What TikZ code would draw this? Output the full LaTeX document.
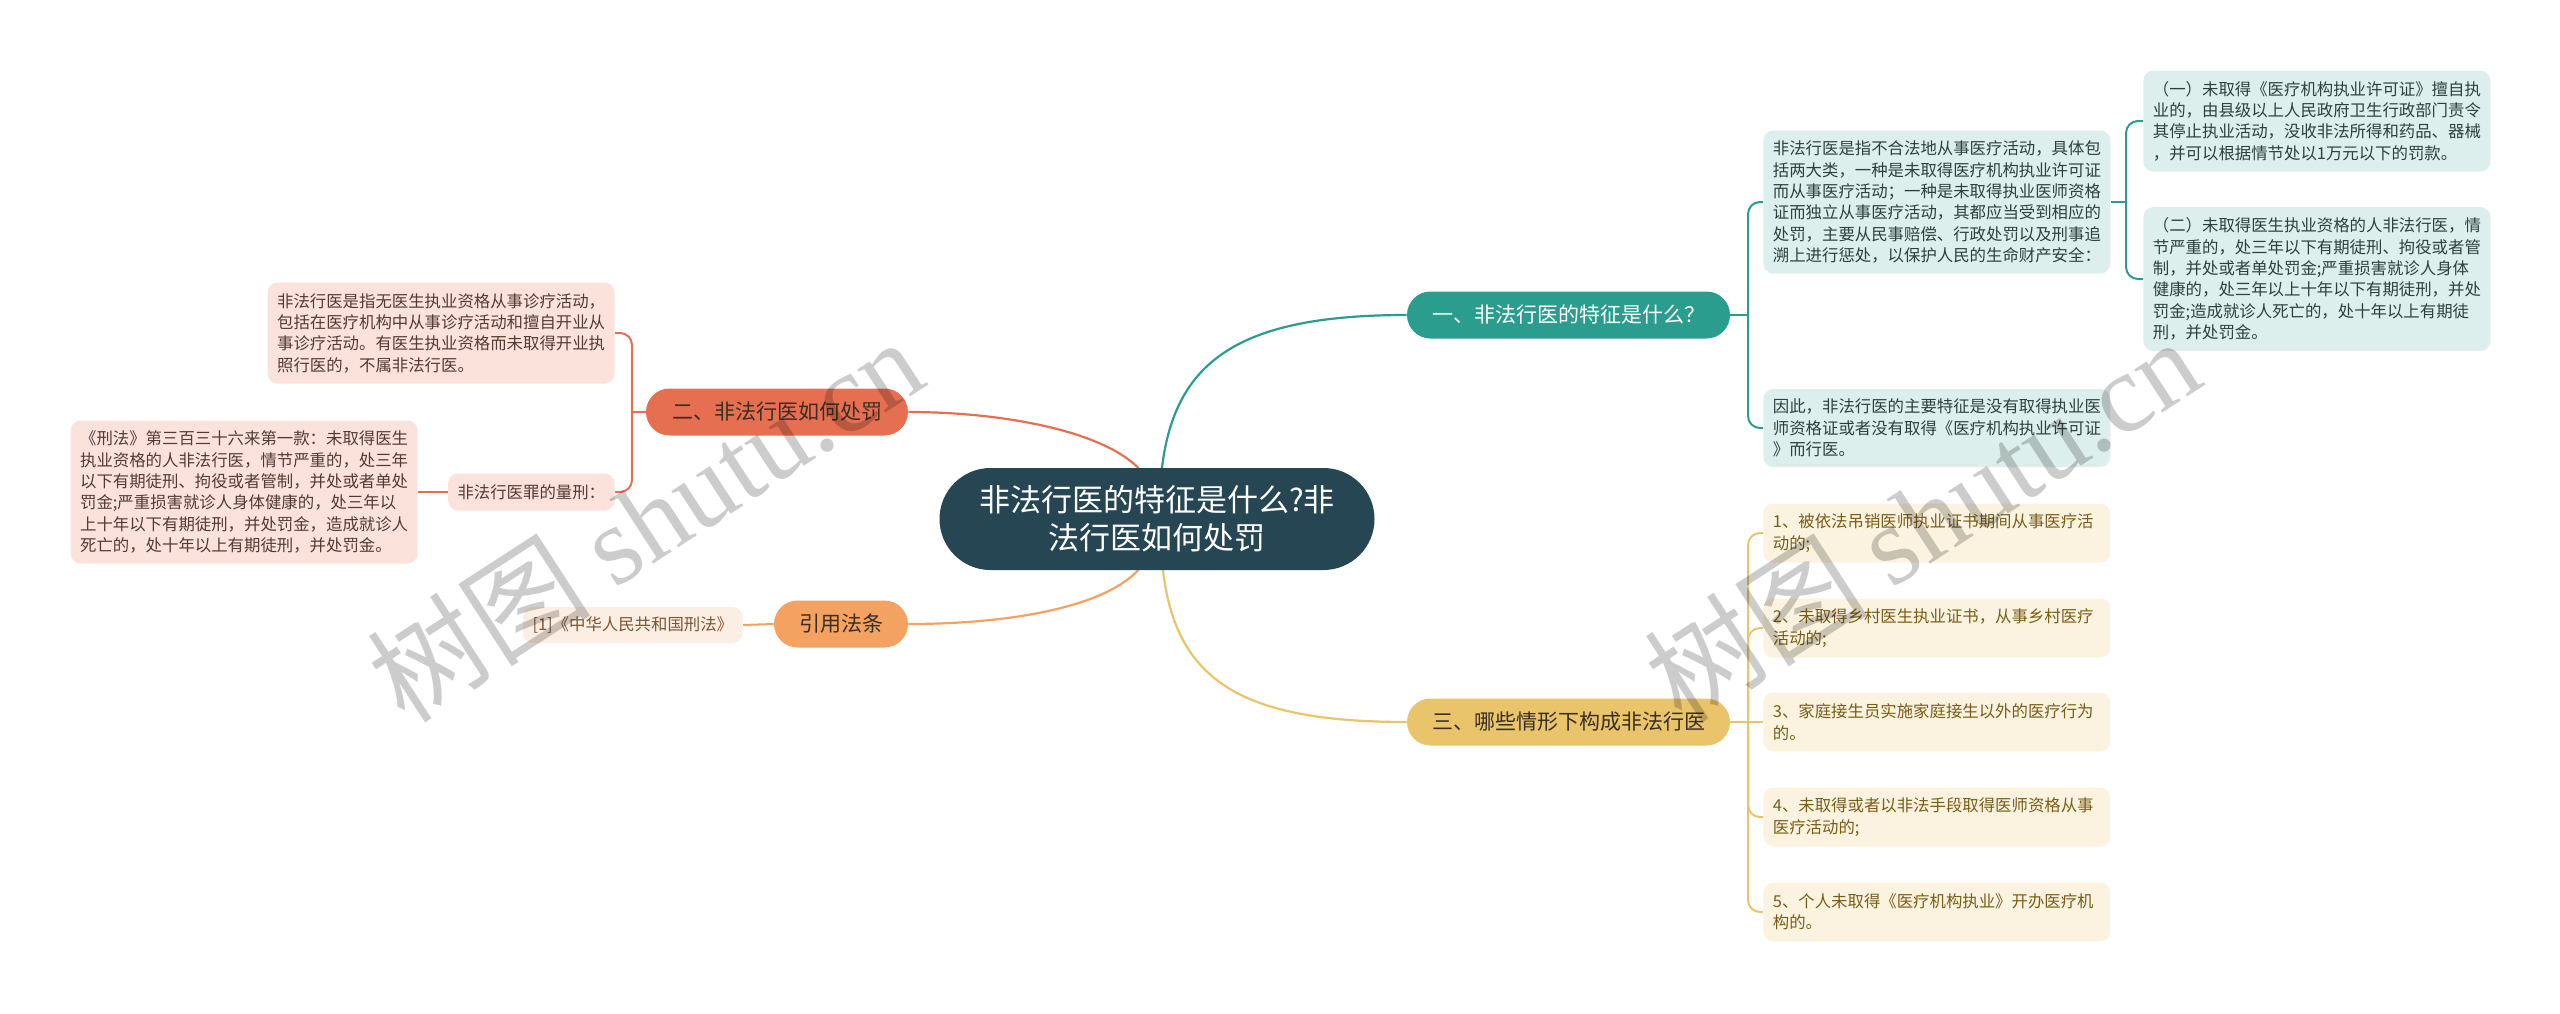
\documentclass[tikz,border=0pt]{standalone}
\usepackage{fontspec}
\setmainfont{Noto Sans CJK SC}
\newfontfamily\wmserif{Liberation Serif}
\usetikzlibrary{backgrounds}
\definecolor{cCenter}{HTML}{264653}
\definecolor{cTeal}{HTML}{2A9D8F}
\definecolor{cGold}{HTML}{E9C46A}
\definecolor{cSand}{HTML}{F4A261}
\definecolor{cCoral}{HTML}{E76F51}
\definecolor{fTeal}{HTML}{DDEFEC}
\definecolor{fGold}{HTML}{FBF3E0}
\definecolor{fCoral}{HTML}{FBE3DC}
\definecolor{fSand}{HTML}{FDEEE3}
\definecolor{tTeal}{HTML}{2F3F3D}
\definecolor{tGold}{HTML}{7A5C16}
\definecolor{tCoral}{HTML}{553A32}
\definecolor{tSand}{HTML}{7E5533}
\definecolor{tDark}{HTML}{3A2E22}
\begin{document}
\begin{tikzpicture}[x=0.5pt,y=-0.5pt,
  leaf/.style={rounded corners=5pt, inner xsep=4.75pt, inner ysep=2pt, align=left,
    font=\fontsize{8.2pt}{10.65pt}\selectfont},
  wide/.style={text width=164pt},
  tleaf/.style={leaf, fill=fTeal, text=tTeal},
  gleaf/.style={leaf, wide, fill=fGold, text=tGold, minimum height=29.5pt},
  cleaf/.style={leaf, fill=fCoral, text=tCoral},
  sleaf/.style={leaf, fill=fSand, text=tSand},
  branch/.style={rounded corners=11.75pt, minimum height=23.5pt, inner xsep=12pt, inner ysep=0pt,
    font=\fontsize{10.5pt}{12pt}\selectfont},
  link/.style={line width=1pt, rounded corners=6pt},
  mainlink/.style={line width=1.1pt},
  watermark/.style={rotate=33, text=black, text opacity=0.2, font=\fontsize{56pt}{60pt}\selectfont}
]
\useasboundingbox (0,0) rectangle (2560,1013);

% central node
\node[fill=cCenter, text=white, rounded corners=25.5pt, minimum width=217.5pt, minimum height=51pt,
  align=center, inner sep=0pt, font=\fontsize{15.5pt}{19pt}\selectfont] (c) at (1157,519)
  {非法行医的特征是什么?非\\法行医如何处罚};

% main branches
\node[branch, fill=cTeal, text=white, minimum width=161.5pt] (b1) at (1568.5,315) {一、非法行医的特征是什么？};
\node[branch, fill=cGold, text=tDark, minimum width=161.5pt] (b3) at (1568.5,722) {三、哪些情形下构成非法行医};
\node[branch, fill=cCoral, text=tDark, minimum width=131pt] (b2) at (777,412) {二、非法行医如何处罚};
\node[branch, fill=cSand, text=tDark, minimum width=67pt] (b4) at (841,624) {引用法条};

% teal leaves
\node[tleaf, wide, anchor=west, minimum height=71.5pt] (T1) at (1763,202)
  {非法行医是指不合法地从事医疗活动，具体包\\括两大类，一种是未取得医疗机构执业许可证\\而从事医疗活动；一种是未取得执业医师资格\\证而独立从事医疗活动，其都应当受到相应的\\处罚，主要从民事赔偿、行政处罚以及刑事追\\溯上进行惩处，以保护人民的生命财产安全：};
\node[tleaf, wide, anchor=west, minimum height=39pt] (T2) at (1763,428)
  {因此，非法行医的主要特征是没有取得执业医\\师资格证或者没有取得《医疗机构执业许可证\\》而行医。};
\node[tleaf, wide, anchor=west, minimum height=50.5pt] (T1a) at (2143,121)
  {（一）未取得《医疗机构执业许可证》擅自执\\业的，由县级以上人民政府卫生行政部门责令\\其停止执业活动，没收非法所得和药品、器械\\，并可以根据情节处以1万元以下的罚款。};
\node[tleaf, wide, anchor=west, minimum height=72pt] (T1b) at (2143,279)
  {（二）未取得医生执业资格的人非法行医，情\\节严重的，处三年以下有期徒刑、拘役或者管\\制，并处或者单处罚金;严重损害就诊人身体\\健康的，处三年以上十年以下有期徒刑，并处\\罚金;造成就诊人死亡的，处十年以上有期徒\\刑，并处罚金。};

% gold leaves
\node[gleaf, anchor=west] (G1) at (1763,533) {1、被依法吊销医师执业证书期间从事医疗活\\动的;};
\node[gleaf, anchor=west] (G2) at (1763,628) {2、未取得乡村医生执业证书，从事乡村医疗\\活动的;};
\node[gleaf, anchor=west] (G3) at (1763,722) {3、家庭接生员实施家庭接生以外的医疗行为\\的。};
\node[gleaf, anchor=west] (G4) at (1763,817) {4、未取得或者以非法手段取得医师资格从事\\医疗活动的;};
\node[gleaf, anchor=west] (G5) at (1763,912) {5、个人未取得《医疗机构执业》开办医疗机\\构的。};

% coral leaves
\node[cleaf, wide, anchor=east, minimum height=50.5pt] (LA) at (615,333)
  {非法行医是指无医生执业资格从事诊疗活动，\\包括在医疗机构中从事诊疗活动和擅自开业从\\事诊疗活动。有医生执业资格而未取得开业执\\照行医的，不属非法行医。};
\node[cleaf, anchor=east, minimum height=18.5pt] (LB) at (615,492) {非法行医罪的量刑：};
\node[cleaf, wide, anchor=east, minimum height=71.5pt] (LC) at (418,492)
  {《刑法》第三百三十六来第一款：未取得医生\\执业资格的人非法行医，情节严重的，处三年\\以下有期徒刑、拘役或者管制，并处或者单处\\罚金;严重损害就诊人身体健康的，处三年以\\上十年以下有期徒刑，并处罚金，造成就诊人\\死亡的，处十年以上有期徒刑，并处罚金。};

% citation leaf
\node[sleaf, anchor=east, minimum height=18pt] (cite) at (743,625) {[1]《中华人民共和国刑法》};

% junction coordinates
\coordinate (j1) at (1748,315);
\coordinate (j11) at (2126,202);
\coordinate (j3) at (1748,722);
\coordinate (j2) at (632,412);

\begin{scope}[on background layer]
  % main connectors
  \draw[mainlink, cTeal] ([xshift=2.5pt]c.center) -- ([xshift=2.5pt]c.north) .. controls (1175,360) and (1240,315) .. (b1.west);
  \draw[mainlink, cGold] ([xshift=3pt]c.center) -- ([xshift=3pt]c.south) .. controls (1176,680) and (1240,722) .. (b3.west);
  \draw[mainlink, cCoral] ([xshift=-9.5pt]c.center) -- ([xshift=-9.5pt]c.north) .. controls (1100,430) and (1000,412) .. (b2.east);
  \draw[mainlink, cSand] ([xshift=-9.5pt]c.center) -- ([xshift=-9.5pt]c.south) .. controls (1100,610) and (1000,624) .. (b4.east);

  % teal
  \draw[link, cTeal] (b1.east) -- (j1);
  \draw[link, cTeal] (j1) |- (T1.west);
  \draw[link, cTeal] (j1) |- (T2.west);
  \draw[link, cTeal] (T1.east) -- (j11);
  \draw[link, cTeal] (j11) |- (T1a.west);
  \draw[link, cTeal] (j11) |- (T1b.west);

  % gold
  \draw[link, cGold] (b3.east) -- (j3);
  \draw[link, cGold] (j3) |- (G1.west);
  \draw[link, cGold] (j3) |- (G2.west);
  \draw[link, cGold] (j3) -- (G3.west);
  \draw[link, cGold] (j3) |- (G4.west);
  \draw[link, cGold] (j3) |- (G5.west);

  % coral
  \draw[link, cCoral] (b2.west) -- (j2);
  \draw[link, cCoral] (j2) |- (LA.east);
  \draw[link, cCoral] (j2) |- (LB.east);
  \draw[link, cCoral] (LB.west) -- (LC.east);

  % sand
  \draw[link, cSand] (b4.west) -- (cite.east);
\end{scope}

% watermarks
\node[watermark] (wm1) at (645,519) {树图 {\wmserif shutu.cn}};
\node[watermark] (wm2) at (1922,519) {树图 {\wmserif shutu.cn}};
\end{tikzpicture}
\end{document}
